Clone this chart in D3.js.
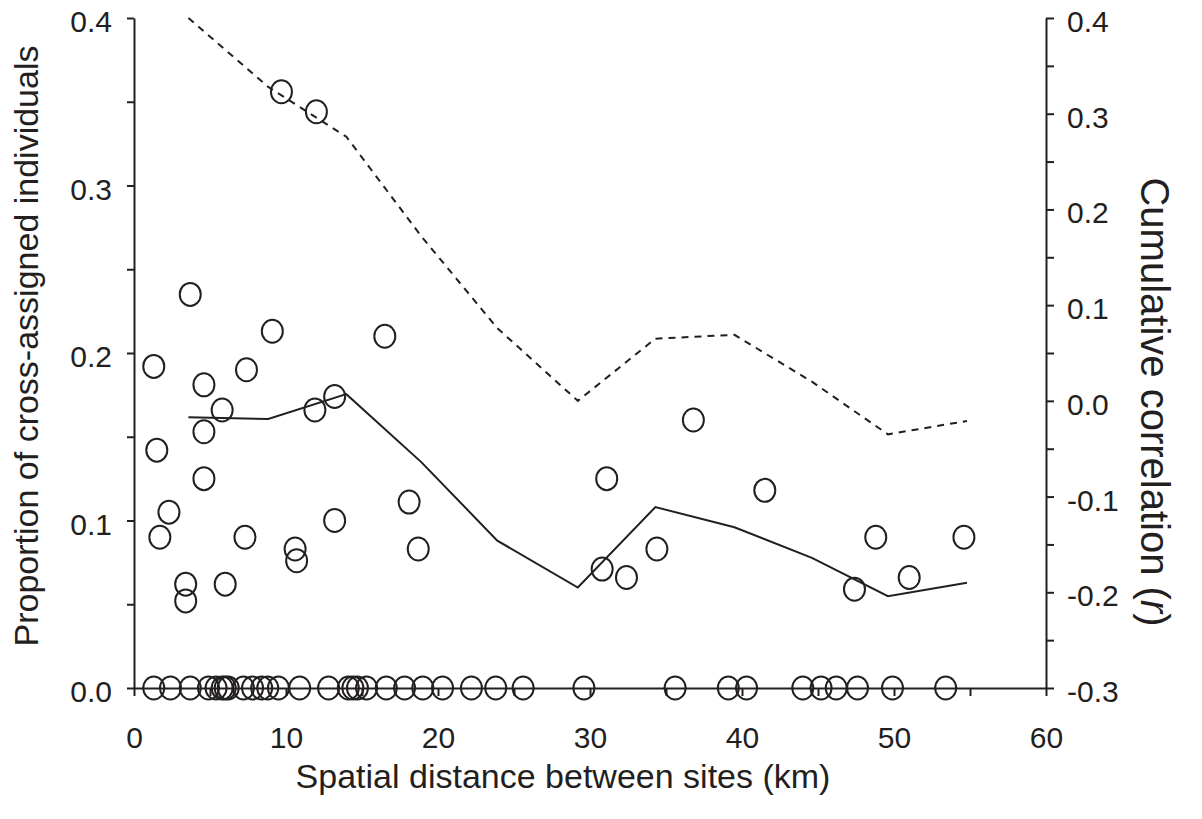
<!DOCTYPE html>
<html>
<head>
<meta charset="utf-8">
<script src="https://cdn.jsdelivr.net/npm/d3@7/dist/d3.min.js"></script>
<style>
  html, body { margin: 0; padding: 0; background: #fff; }
  svg { display: block; font-family: "Liberation Sans", Arial, Helvetica, sans-serif; }
</style>
</head>
<body>
<svg id="chart" width="1202" height="819"></svg>
<script>
// ---- Data ----
// Site pairs with non-zero cross-assignment: distance (km) and proportion
const pointDist = [3.7, 9.1, 1.3, 7.4, 4.6, 5.8, 11.9, 13.2, 4.6, 1.5, 4.6, 2.3, 13.2, 1.7, 7.3, 10.6, 10.7, 3.4, 3.4, 6.0,
                   9.7, 12.0, 16.5, 18.1, 18.7, 30.8, 31.1, 32.4, 34.4, 36.8, 41.5, 47.4, 48.8, 51.0, 54.6];
const pointProp = [0.235, 0.213, 0.192, 0.190, 0.181, 0.166, 0.166, 0.174, 0.153, 0.142, 0.125, 0.105, 0.100, 0.090, 0.090, 0.083, 0.076, 0.062, 0.052, 0.062,
                   0.356, 0.344, 0.210, 0.111, 0.083, 0.071, 0.125, 0.066, 0.083, 0.160, 0.118, 0.059, 0.090, 0.066, 0.090];
// Site pairs with zero cross-assigned individuals
const zeroDist = [1.3, 2.4, 3.7, 4.9, 5.4, 5.8, 6.0, 6.2, 7.2, 7.8, 8.4, 8.8, 9.5, 10.9, 12.8, 14.1, 14.4, 14.7, 15.3,
                  16.6, 17.8, 19.0, 20.3, 22.2, 23.8, 25.6, 29.6, 35.6, 39.1, 40.3, 44.0, 45.2, 46.2, 47.6, 49.9, 53.4];
// Cumulative correlation (r) per distance class
const classDist = [3.58, 8.83, 13.97, 18.9, 23.9, 29.2, 34.3, 39.5, 44.6, 49.6, 54.8];
const rSolid  = [-0.017, -0.019, 0.007, -0.064, -0.146, -0.195, -0.111, -0.132, -0.164, -0.204, -0.190];
const rDashed = [0.400, 0.328, 0.276, 0.172, 0.076, 0.000, 0.065, 0.069, 0.020, -0.035, -0.021];
// Axis ticks
const xTicks = [0, 10, 20, 30, 40, 50, 60];
const yLeftTicks = [0.0, 0.1, 0.2, 0.3, 0.4];
const yRightTicks = [-0.3, -0.2, -0.1, 0.0, 0.1, 0.2, 0.3, 0.4];

// ---- Layout ----
const ink = "#231f20";
const svg = d3.select("#chart");
const x = d3.scaleLinear().domain([0, 60]).range([134, 1046]);
const yL = d3.scaleLinear().domain([0, 0.4]).range([688, 18]);
const yR = d3.scaleLinear().domain([-0.3, 0.4]).range([688, 18]);

const fmt = v => d3.format(".1f")(v).replace("\u2212", "-");
const tickFont = 30;

function styleAxis(g) {
  g.selectAll("path.domain").attr("stroke", ink).attr("stroke-width", 2);
  g.selectAll(".tick line").attr("stroke", ink).attr("stroke-width", 2);
  g.selectAll(".tick text").attr("fill", ink).attr("font-size", tickFont)
    .attr("font-family", "Liberation Sans, Arial, sans-serif");
}

// Bottom axis: ticks every 5, labels every 10
const xMinor = d3.range(0, 60.001, 5);
const gx = svg.append("g").attr("transform", `translate(0,${yL(0)})`)
  .call(d3.axisBottom(x).tickValues(xMinor).tickSize(8).tickSizeOuter(0).tickPadding(31)
    .tickFormat(v => xTicks.includes(v) ? d3.format("d")(v) : ""));
styleAxis(gx);

// Left axis: ticks every 0.05
const yLMinor = d3.range(0, 0.4001, 0.05).map(v => +v.toFixed(2));
const gyl = svg.append("g").attr("transform", `translate(${x(0)},0)`)
  .call(d3.axisLeft(yL).tickValues(yLMinor).tickSize(7).tickSizeOuter(0).tickPadding(15)
    .tickFormat(v => yLeftTicks.some(t => Math.abs(t - v) < 1e-9) ? fmt(v) : ""));
styleAxis(gyl);
gyl.selectAll(".tick text").attr("dy", "0.45em");

// Right axis: ticks every 0.05
const yRMinor = d3.range(-0.3, 0.4001, 0.05).map(v => +v.toFixed(2));
const gyr = svg.append("g").attr("transform", `translate(${x(60)},0)`)
  .call(d3.axisRight(yR).tickValues(yRMinor).tickSize(8).tickSizeOuter(0).tickPadding(13)
    .tickFormat(v => yRightTicks.some(t => Math.abs(t - v) < 1e-9) ? fmt(v) : ""));
styleAxis(gyr);
gyr.selectAll(".tick text").attr("dy", "0.45em");

// ---- Lines (right axis) ----
const lineGen = d3.line().x(d => x(d[0])).y(d => yR(d[1]));
svg.append("path").datum(classDist.map((d, i) => [d, rSolid[i]]))
  .attr("d", lineGen).attr("fill", "none").attr("stroke", ink).attr("stroke-width", 2);
svg.append("path").datum(classDist.map((d, i) => [d, rDashed[i]]))
  .attr("d", lineGen).attr("fill", "none").attr("stroke", ink).attr("stroke-width", 2)
  .attr("stroke-dasharray", "7,6");

// ---- Points (left axis) ----
const pts = pointDist.map((d, i) => [d, pointProp[i]]).concat(zeroDist.map(d => [d, 0]));
svg.append("g").selectAll("ellipse").data(pts).join("ellipse")
  .attr("cx", d => x(d[0])).attr("cy", d => yL(d[1]))
  .attr("rx", 10.5).attr("ry", 11.5)
  .attr("fill", "none").attr("stroke", ink).attr("stroke-width", 2);

// ---- Titles ----
svg.append("text").attr("x", 563).attr("y", 788).attr("text-anchor", "middle")
  .attr("font-size", 34).attr("fill", ink).text("Spatial distance between sites (km)");
svg.append("text").attr("transform", "translate(38,346) rotate(-90)").attr("text-anchor", "middle")
  .attr("font-size", 34).attr("fill", ink).text("Proportion of cross-assigned individuals");
const rt = svg.append("text").attr("transform", "translate(1141,402) rotate(90)").attr("text-anchor", "middle")
  .attr("font-size", 40).attr("fill", ink);
rt.append("tspan").text("Cumulative correlation (");
rt.append("tspan").attr("font-style", "italic").text("r");
rt.append("tspan").text(")");
</script>
</body>
</html>
